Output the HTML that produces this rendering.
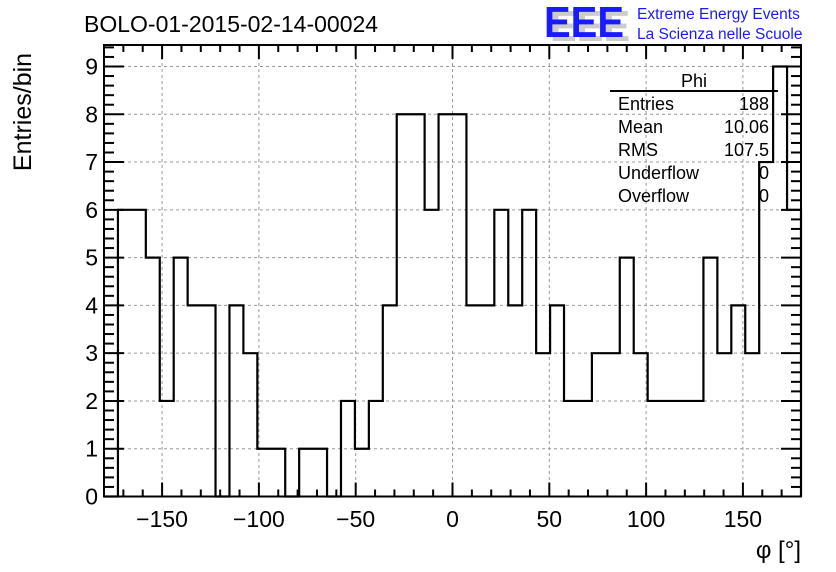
<!DOCTYPE html>
<html><head><meta charset="utf-8"><style>
html,body{margin:0;padding:0;background:#fff;}
svg{display:block;font-family:"Liberation Sans",Arial,sans-serif;}
</style></head><body>
<svg id="chart" width="836" height="572" viewBox="0 0 836 572" xmlns="http://www.w3.org/2000/svg">
<rect width="836" height="572" fill="#fff"/>
<text x="84" y="32" font-size="23" fill="#000">BOLO-01-2015-02-14-00024</text>
<g>
<text x="550" y="41" font-size="44" font-weight="bold" fill="#ccc" textLength="80" lengthAdjust="spacingAndGlyphs">EEE</text>
<text x="544" y="37" font-size="44" font-weight="bold" fill="#1a1aff" textLength="80" lengthAdjust="spacingAndGlyphs">EEE</text>
<text x="637" y="19" font-size="15.5" fill="#1a1aff">Extreme Energy Events</text>
<text x="637" y="39" font-size="15.5" fill="#1a1aff">La Scienza nelle Scuole</text>
</g>
<g id="grid"></g>
<g id="hist"></g>
<g id="axes"></g>
<g font-size="18" fill="#000">
<text x="694" y="87" font-size="18" text-anchor="middle">Phi</text>
<line x1="610" y1="91" x2="778" y2="91" stroke="#000" stroke-width="2"/>
<text x="618" y="110">Entries</text><text x="769" y="110" text-anchor="end">188</text>
<text x="618" y="133">Mean</text><text x="769" y="133" text-anchor="end">10.06</text>
<text x="618" y="156">RMS</text><text x="769" y="156" text-anchor="end">107.5</text>
<text x="618" y="179">Underflow</text><text x="769" y="179" text-anchor="end">0</text>
<text x="618" y="202">Overflow</text><text x="769" y="202" text-anchor="end">0</text>
</g>
<text transform="translate(31,112) rotate(-90)" font-size="25" text-anchor="middle">Entries/bin</text>
<text x="801" y="558" font-size="24" text-anchor="end">φ [°]</text>
</svg>
<script>
const binCounts = [0,6,6,5,2,5,4,4,0,4,3,1,1,0,1,1,0,2,1,2,4,8,8,6,8,8,4,4,6,4,6,3,4,2,2,3,3,5,3,2,2,2,2,5,3,4,3,7,9,6];
const xTicks = [-150,-100,-50,0,50,100,150];
const yTicks = [0,1,2,3,4,5,6,7,8,9];
const xMin=-180,xMax=180,yMin=0,yMax=9.45;
const L=104,R=801,T=45,B=496.5;
const NS="http://www.w3.org/2000/svg";
function sx(v){return L+(v-xMin)/(xMax-xMin)*(R-L);}
function sy(v){return B-(v-yMin)/(yMax-yMin)*(B-T);}
function mk(tag,attrs,parent){const e=document.createElementNS(NS,tag);for(const k in attrs)e.setAttribute(k,attrs[k]);parent.appendChild(e);return e;}
const grid=document.getElementById('grid'),hist=document.getElementById('hist'),axes=document.getElementById('axes');
xTicks.forEach(v=>{const l=mk('line',{x1:sx(v),x2:sx(v),y1:T,y2:B,stroke:'#999','stroke-dasharray':'3,3','stroke-width':1},grid);

});
yTicks.forEach(v=>{if(v===0)return;const l=mk('line',{x1:L,x2:R,y1:sy(v),y2:sy(v),stroke:'#999','stroke-dasharray':'3,3','stroke-width':1},grid);

});
const bw=(xMax-xMin)/binCounts.length;
let d='M'+sx(xMin)+','+sy(0);
binCounts.forEach((c,i)=>{const x0=sx(xMin+i*bw),x1=sx(xMin+(i+1)*bw);d+=' L'+x0+','+sy(c)+' L'+x1+','+sy(c);});
d+=' L'+sx(xMax)+','+sy(0);
const p=mk('path',{d:d,fill:'none',stroke:'#000','stroke-width':2.2},hist);


const fr=mk('rect',{x:L,y:T,width:R-L,height:B-T,fill:'none',stroke:'#000','stroke-width':2},axes);


for(let v=-180;v<=180;v+=10){const maj=(v%50===0);const len=maj?14:7;
mk('line',{x1:sx(v),x2:sx(v),y1:B,y2:B-len,stroke:'#000','stroke-width':2},axes);
mk('line',{x1:sx(v),x2:sx(v),y1:T,y2:T+len,stroke:'#000','stroke-width':2},axes);}
for(let v=0;v<=9.4;v+=0.2){const r=Math.round(v*5);const maj=(r%5===0);const len=maj?20:10;const y=sy(v);
mk('line',{x1:L,x2:L+len,y1:y,y2:y,stroke:'#000','stroke-width':2},axes);
mk('line',{x1:R,x2:R-len,y1:y,y2:y,stroke:'#000','stroke-width':2},axes);}
xTicks.forEach(v=>{const t=mk('text',{x:sx(v),y:527,'font-size':23,'text-anchor':'middle'},axes);t.textContent=(v<0?'\u2212':'')+Math.abs(v);

});
yTicks.forEach(v=>{const t=mk('text',{x:L-6,y:sy(v)+8,'font-size':23,'text-anchor':'end'},axes);t.textContent=v;

});
</script>
</body></html>
